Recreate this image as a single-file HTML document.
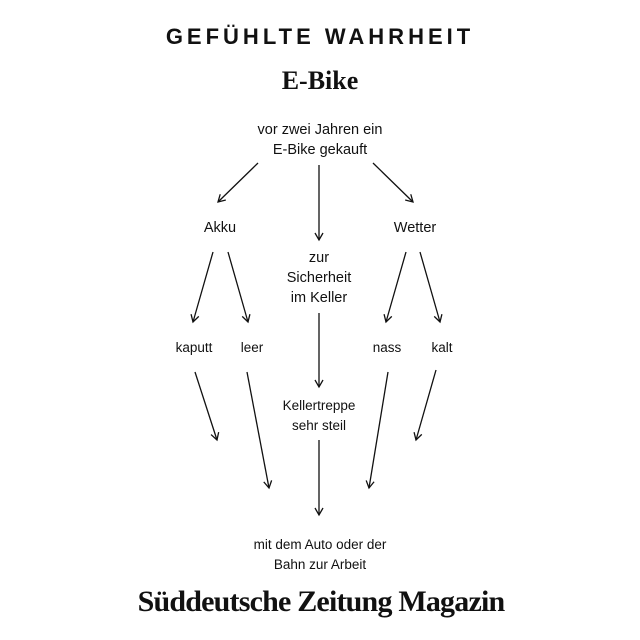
<!DOCTYPE html>
<html><head><meta charset="utf-8"><style>
body{margin:0;background:#fff;width:640px;height:640px;overflow:hidden;position:relative;font-family:"Liberation Sans",sans-serif;color:#111}
.t{position:absolute;text-align:center;transform:translateX(-50%);white-space:nowrap;font-size:14.5px;line-height:20px}
</style></head><body>
<div class="t" style="left:320px;top:24px;font-size:22px;font-weight:bold;letter-spacing:4px;line-height:26px">GEFÜHLTE WAHRHEIT</div>
<div class="t" style="left:320px;top:66px;font-family:'Liberation Serif',serif;font-weight:bold;font-size:26px;line-height:30px">E-Bike</div>
<div class="t" style="left:320px;top:120px">vor zwei Jahren ein<br>E-Bike gekauft</div>
<div class="t" style="left:220px;top:218px">Akku</div>
<div class="t" style="left:415px;top:218px">Wetter</div>
<div class="t" style="left:319px;top:248px">zur<br>Sicherheit<br>im Keller</div>
<div class="t" style="left:194px;top:338px;font-size:13.5px">kaputt</div>
<div class="t" style="left:252px;top:338px;font-size:13.5px">leer</div>
<div class="t" style="left:387px;top:338px;font-size:13.5px">nass</div>
<div class="t" style="left:442px;top:338px;font-size:13.5px">kalt</div>
<div class="t" style="left:319px;top:396px;font-size:13.5px">Kellertreppe<br>sehr steil</div>
<div class="t" style="left:320px;top:535px;font-size:13.5px">mit dem Auto oder der<br>Bahn zur Arbeit</div>
<div class="t" style="left:321px;top:584px;font-family:'Liberation Serif',serif;font-weight:bold;font-size:30px;line-height:36px;letter-spacing:-0.8px">Süddeutsche Zeitung Magazin</div>
<svg width="640" height="640" style="position:absolute;left:0;top:0" fill="none" stroke="#111" stroke-width="1.3">
<defs><marker id="a" markerWidth="10" markerHeight="10" refX="8" refY="5" orient="auto" markerUnits="userSpaceOnUse"><path d="M1,1 L8,5 L1,9" fill="none" stroke="#111" stroke-width="1.3"/></marker></defs>
<g marker-end="url(#a)">
<line x1="258" y1="163" x2="218" y2="202"/>
<line x1="319" y1="165" x2="319" y2="240"/>
<line x1="373" y1="163" x2="413" y2="202"/>
<line x1="213" y1="252" x2="193" y2="322"/>
<line x1="228" y1="252" x2="248" y2="322"/>
<line x1="406" y1="252" x2="386" y2="322"/>
<line x1="420" y1="252" x2="440" y2="322"/>
<line x1="319" y1="313" x2="319" y2="387"/>
<line x1="195" y1="372" x2="217" y2="440"/>
<line x1="247" y1="372" x2="269" y2="488"/>
<line x1="388" y1="372" x2="369" y2="488"/>
<line x1="436" y1="370" x2="416" y2="440"/>
<line x1="319" y1="440" x2="319" y2="515"/>
</g></svg>
</body></html>
